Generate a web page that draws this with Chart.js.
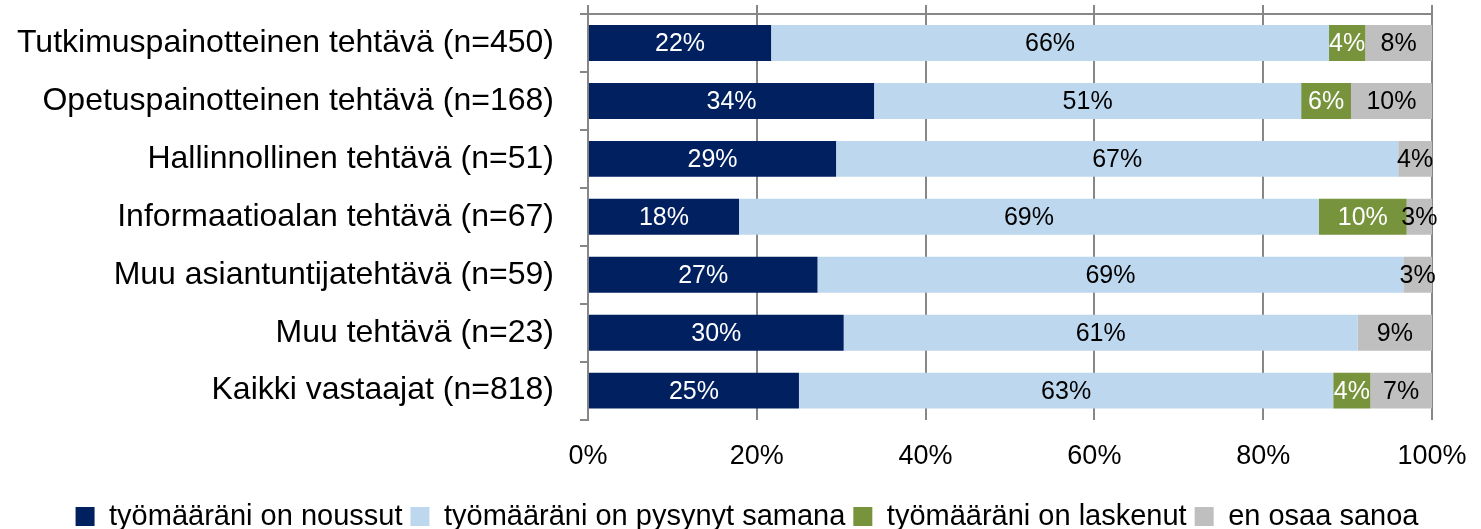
<!DOCTYPE html>
<html>
<head>
<meta charset="utf-8">
<script src="https://cdn.jsdelivr.net/npm/chart.js@4"></script>
<style>
  body { margin: 0; background: #fff; }
  #wrap { width: 1481px; height: 529px; }
</style>
</head>
<body>
<div id="wrap"><canvas id="bars"></canvas></div>
<script>
const categories = [
    'Tutkimuspainotteinen tehtävä (n=450)',
    'Opetuspainotteinen tehtävä (n=168)',
    'Hallinnollinen tehtävä (n=51)',
    'Informaatioalan tehtävä (n=67)',
    'Muu asiantuntijatehtävä (n=59)',
    'Muu tehtävä (n=23)',
    'Kaikki vastaajat (n=818)'
];
const noussut = [21.7, 33.9, 29.4, 17.9, 27.2, 30.3, 25.0];
const samana = [66.1, 50.6, 66.6, 68.7, 69.4, 60.9, 63.3];
const laskenut = [4.3, 5.9, 0, 10.4, 0, 0, 4.4];
const eiTiedossa = [7.9, 9.6, 4.0, 3.0, 3.4, 8.8, 7.3];
const xTicks = [0, 20, 40, 60, 80, 100];

const font = "'Liberation Sans', Arial, sans-serif";

// draws the rounded percentage in the middle of each bar piece
const barLabels = {
    id: 'barLabels',
    afterDatasetsDraw(chart) {
        const ctx = chart.ctx;
        ctx.save();
        ctx.font = '25px ' + font;
        ctx.textAlign = 'center';
        ctx.textBaseline = 'middle';
        chart.data.datasets.forEach((ds, i) => {
            const meta = chart.getDatasetMeta(i);
            meta.data.forEach((bar, j) => {
                const v = ds.data[j];
                if (!v) return;
                ctx.fillStyle = ds.labelColor;
                ctx.fillText(Math.round(v) + '%', (bar.x + bar.base) / 2, bar.y + 1);
            });
        });
        ctx.restore();
    }
};

const ctx = document.getElementById('bars').getContext('2d');

new Chart(ctx, {
    type: 'bar',
    data: {
        labels: categories,
        datasets: [
            { label: 'työmääräni on noussut', data: noussut, backgroundColor: '#002060', labelColor: '#ffffff' },
            { label: 'työmääräni on pysynyt samana', data: samana, backgroundColor: '#bdd7ee', labelColor: '#000000' },
            { label: 'työmääräni on laskenut', data: laskenut, backgroundColor: '#77933c', labelColor: '#ffffff' },
            { label: 'en osaa sanoa', data: eiTiedossa, backgroundColor: '#bfbfbf', labelColor: '#000000' }
        ]
    },
    options: {
        indexAxis: 'y',
        responsive: true,
        maintainAspectRatio: false,
        animation: false,
        layout: { padding: { left: -9, right: -22, top: 5, bottom: -12 } },
        datasets: {
            bar: { categoryPercentage: 0.62, barPercentage: 1, borderWidth: 0 }
        },
        scales: {
            x: {
                stacked: true,
                min: 0,
                max: 100,
                afterBuildTicks: (axis) => { axis.ticks = xTicks.map(v => ({ value: v })); },
                afterFit: (axis) => { axis.paddingLeft = 0; axis.paddingRight = 49; },
                ticks: {
                    callback: (v) => v + '%',
                    color: '#000',
                    font: { family: font, size: 27 },
                    padding: 21
                },
                grid: { color: '#878787', lineWidth: 2, tickLength: 0 },
                border: { display: false }
            },
            xTop: {
                position: 'top',
                axis: 'x',
                min: 0,
                max: 100,
                afterBuildTicks: (axis) => { axis.ticks = xTicks.map(v => ({ value: v })); },
                afterFit: (axis) => { axis.height = 9; axis.paddingLeft = 0; axis.paddingRight = 0; },
                ticks: { display: false },
                grid: { drawOnChartArea: false, color: '#878787', lineWidth: 2, tickLength: 9 },
                border: { color: '#878787', width: 2 }
            },
            y: {
                stacked: true,
                afterFit: (axis) => { axis.paddingTop = 0; axis.paddingBottom = 0; },
                ticks: {
                    color: '#000',
                    font: { family: font, size: 32 },
                    padding: 26
                },
                grid: { drawOnChartArea: false, color: '#878787', lineWidth: 2, tickLength: 8 },
                border: { color: '#878787', width: 2 }
            }
        },
        plugins: {
            legend: {
                position: 'bottom',
                labels: {
                    color: '#000',
                    font: { family: font, size: 29 },
                    boxWidth: 19,
                    boxHeight: 19,
                    padding: 8
                }
            },
            tooltip: {
                callbacks: {
                    label: function (context) {
                        return `${context.dataset.label}: ${Math.round(context.parsed.x)}%`;
                    }
                }
            }
        }
    },
    plugins: [barLabels]
});
</script>
</body>
</html>
